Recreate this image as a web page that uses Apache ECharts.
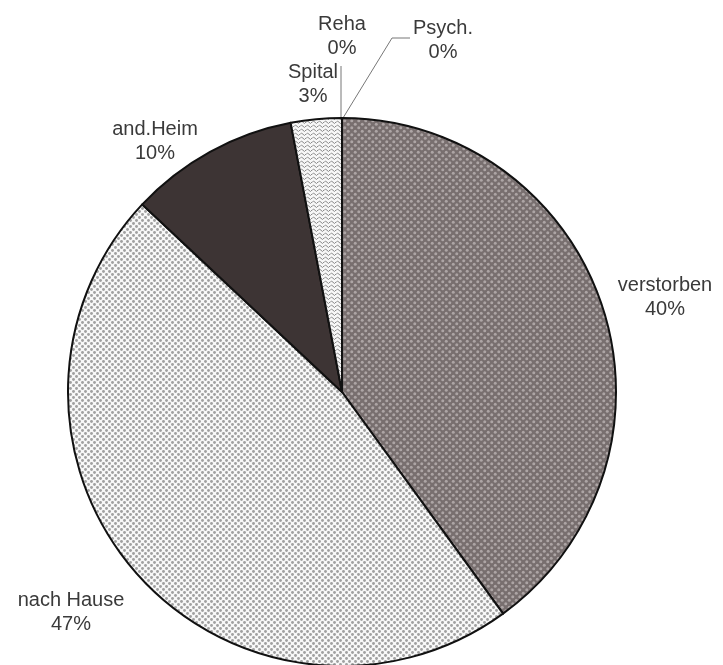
<!DOCTYPE html>
<html>
<head>
<meta charset="utf-8">
<script src="https://cdn.jsdelivr.net/npm/echarts@6/dist/echarts.min.js"></script>
<style>
  html, body { margin: 0; padding: 0; background: #fff; }
  #chart { width: 723px; height: 665px; }
</style>
</head>
<body>
<div id="chart"></div>
<script>
// Entlassungsziele (Anteile in Prozent)
const categories = ['verstorben', 'nach Hause', 'and.Heim', 'Spital', 'Reha', 'Psych.'];
const shares = [40, 47, 10, 3, 0, 0];

// Label anchor points (text block centres) and which labels get a leader line
const labelCentres = {
  'verstorben': [665, 297],
  'nach Hause': [71, 612],
  'and.Heim': [155, 141],
  'Spital': [313, 84],
  'Reha': [342, 36],
  'Psych.': [443, 40]
};
const withLeader = ['Reha', 'Psych.'];

function makeTile(w, h, draw) {
  const c = document.createElement('canvas');
  c.width = w; c.height = h;
  draw(c.getContext('2d'), w, h);
  return c;
}
function dots(bg, fg, size, r) {
  return makeTile(size, size, (ctx, w, h) => {
    ctx.fillStyle = bg; ctx.fillRect(0, 0, w, h);
    ctx.fillStyle = fg;
    [[w * 0.25, h * 0.25], [w * 0.75, h * 0.75]].forEach(([x, y]) => {
      ctx.beginPath(); ctx.arc(x, y, r, 0, Math.PI * 2); ctx.fill();
    });
  });
}
const patDark = dots('#786f6f', '#ada5a5', 7, 1.5);
const patLight = dots('#f8f8f8', '#a0a0a0', 6, 1.45);
const patZigzag = makeTile(6, 4, (ctx, w, h) => {
  ctx.fillStyle = '#f7f7f7'; ctx.fillRect(0, 0, w, h);
  ctx.strokeStyle = '#8a8a8a'; ctx.lineWidth = 1;
  ctx.beginPath();
  ctx.moveTo(0, 2.5); ctx.lineTo(1.5, 1); ctx.lineTo(4.5, 3.5); ctx.lineTo(6, 2);
  ctx.stroke();
});
const fills = {
  'verstorben': { image: patDark, repeat: 'repeat' },
  'nach Hause': { image: patLight, repeat: 'repeat' },
  'and.Heim': '#3d3434',
  'Spital': { image: patZigzag, repeat: 'repeat' },
  'Reha': '#ffffff',
  'Psych.': '#ffffff'
};

const chart = echarts.init(document.getElementById('chart'), null, { renderer: 'canvas' });

const seriesData = categories.map((name, i) => ({
  name,
  value: shares[i],
  itemStyle: { color: fills[name] },
  labelLine: { show: withLeader.indexOf(name) >= 0 }
}));

chart.setOption({
  animation: false,
  series: [{
    type: 'pie',
    center: [342, 392],
    radius: 274,
    startAngle: 90,
    clockwise: true,
    avoidLabelOverlap: false,
    itemStyle: { borderColor: '#111', borderWidth: 2 },
    label: {
      show: true,
      position: 'outside',
      formatter: '{b}\n{c}%',
      fontFamily: 'Liberation Sans, Arial, sans-serif',
      fontSize: 20,
      lineHeight: 24,
      color: '#3a3a3a',
      align: 'center'
    },
    labelLine: {
      show: false,
      lineStyle: { color: '#777', width: 1 }
    },
    labelLayout: function (p) {
      const name = categories[p.dataIndex];
      const c = labelCentres[name];
      const out = {
        x: c[0], y: c[1], align: 'center', verticalAlign: 'middle'
      };
      const tipX = 342, tipY = 392 - 274;
      if (name === 'Reha') {
        out.labelLinePoints = [[tipX - 1, tipY], [tipX - 1, c[1] + 30], [tipX - 1, c[1] + 30]];
      } else if (name === 'Psych.') {
        out.labelLinePoints = [[tipX + 1, tipY], [392, c[1] - 2], [410, c[1] - 2]];
      }
      return out;
    },
    data: seriesData
  }]
});
</script>
</body>
</html>
